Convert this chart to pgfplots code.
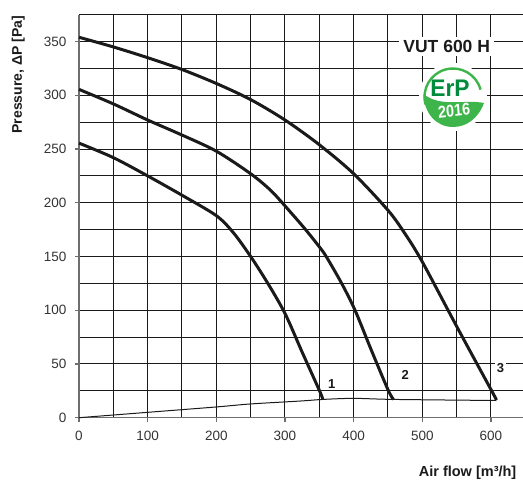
\documentclass[border=0pt]{standalone}
\usepackage{fontspec}
\setmainfont{Liberation Sans}
\usepackage{pgfplots}
\pgfplotsset{compat=1.18}
\definecolor{gridc}{HTML}{1A1A1A}
\definecolor{axc}{HTML}{6E6E6E}
\definecolor{ticktxt}{HTML}{333333}
\definecolor{erpdark}{HTML}{008C3C}
\definecolor{erplight}{HTML}{3DB54A}

\begin{document}
\begin{tikzpicture}
\useasboundingbox (-79pt,-67.3pt) rectangle (444pt,417.7pt);
\begin{axis}[
  scale only axis, width=444pt, height=403pt,
  xmin=0, xmax=646.6, ymin=0, ymax=375,
  axis x line=bottom, axis y line=left,
  axis line style={-, axc, line width=1.6pt},
  xtick={0,100,...,600}, minor xtick={50,150,...,550},
  ytick={0,50,...,350}, minor ytick={25,75,...,375},
  grid=both,
  major grid style={gridc, line width=1pt},
  minor grid style={gridc, line width=1pt},
  tick align=outside, major tick length=4pt, minor tick length=0pt,
  tick style={axc, line width=1.2pt},
  ticklabel style={font=\fontsize{13.5}{15}\selectfont, text=ticktxt},
  xticklabel style={yshift=-6pt},
  yticklabel style={xshift=-5pt},
  /pgf/number format/assume math mode=true,
  clip=false,
]
\addplot[gridc, line width=1pt, smooth] coordinates {
  (0,0) (100,5) (200,10) (250,12.8) (322,15.5) (355,17) (400,18) (459,17) (608,16)};
\addplot[gridc, line width=3pt, smooth] coordinates {
  (0,255.5) (50,242) (100,225) (150,207) (200,188) (225,172) (250,150)
  (275,125) (300,97) (325,61) (351,24) (355,17)};
\addplot[gridc, line width=3pt, smooth] coordinates {
  (0,305.5) (50,292) (100,277) (150,263) (200,248) (250,227) (280,211) (307,192)
  (330,175) (350,159) (360,150) (382.5,125) (402,100) (425,64) (450,26) (458,17)};
\addplot[gridc, line width=3pt, smooth] coordinates {
  (0,354) (50,345) (100,335) (150,324) (200,311) (250,296) (300,277)
  (350,254) (400,227) (450,193) (475,171) (500,145) (550,85) (601,25) (608,16.5)};
\node[fill=white, inner sep=1.5pt, font=\bfseries\fontsize{13}{14}\selectfont, text=gridc]
  at (axis cs:368,31) {1};
\node[fill=white, inner sep=1.5pt, font=\bfseries\fontsize{13}{14}\selectfont, text=gridc]
  at (axis cs:475,39.5) {2};
\node[fill=white, inner sep=1.5pt, font=\bfseries\fontsize{13}{14}\selectfont, text=gridc]
  at (axis cs:614,46) {3};
\node[fill=white, inner xsep=4pt, inner ysep=3pt, font=\bfseries\fontsize{17.5}{19}\selectfont, text=gridc]
  at (axis cs:535.5,345.5) {VUT 600 H};
\node[rotate=90, anchor=east, font=\bfseries\fontsize{14}{16}\selectfont, text=gridc]
  at (axis cs:-88.5,377) {Pressure, ΔP [Pa]};
\node[anchor=east, font=\bfseries\fontsize{14.5}{16}\selectfont, text=gridc]
  at (axis cs:642,-51.5) {Air flow [m³/h]};
\end{axis}
% ErP logo
\begin{scope}[shift={(374pt,320.7pt)}]
  \fill[white] (0,0) circle (34pt);
  \draw[erplight, line width=2.4pt] (195:28.5pt) arc (195:15:28.5pt);
  \fill[erplight] (-29.5pt,3pt) .. controls (-12pt,-11pt) and (12pt,-2pt) .. (31pt,-6pt)
     .. controls (25pt,-22pt) and (13pt,-30pt) .. (0,-30pt)
     .. controls (-17pt,-30pt) and (-29pt,-16pt) .. (-29.5pt,3pt) -- cycle;
  \node[text=erpdark, font=\bfseries\fontsize{24}{26}\selectfont, inner sep=0pt, xscale=0.95] at (-3pt,9pt) {ErP};
  \node[text=white, font=\bfseries\fontsize{17}{18}\selectfont, inner sep=0pt, xscale=0.85, rotate=6] at (1pt,-14pt) {2016};
\end{scope}
\end{tikzpicture}
\end{document}
